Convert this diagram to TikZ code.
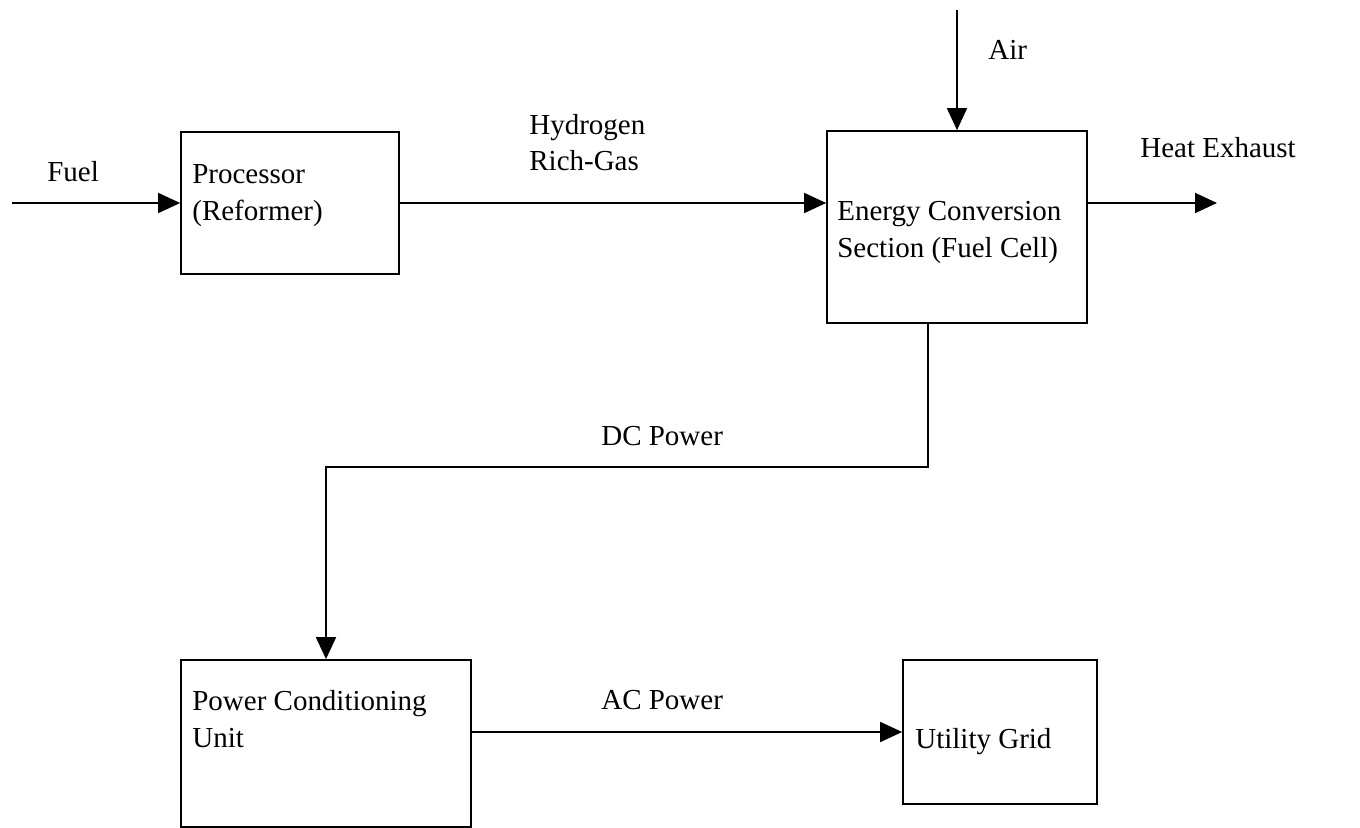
\documentclass[tikz,border=0pt]{standalone}
\usepackage{fontspec}
\setmainfont{Liberation Serif}
\usetikzlibrary{
  arrows.meta,
  positioning,
}

\begin{document}
\begin{tikzpicture}[
  x=0.02cm, y=-0.02cm,
  >={Triangle[length=0.44cm,width=0.40cm]},
  box/.style={draw, line width=1pt, inner sep=0pt},
  txt/.style={anchor=base west, inner sep=0pt, align=left,
    font=\fontsize{16.5}{21}\selectfont},
  flow/.style={->, line width=1pt},
]
\useasboundingbox (0,0) rectangle (1360,828);

% ── Blocks ──────────────────────────────────────────────────────────
\node[box, minimum width=4.36cm, minimum height=2.84cm] (proc) at (290,203) {};
\node[box, minimum width=5.20cm, minimum height=3.84cm] (conv) at (957,227) {};
\node[box, minimum width=5.80cm, minimum height=3.34cm] (pcu)  at (326,743.5) {};
\node[box, minimum width=3.88cm, minimum height=2.88cm] (grid) at (1000,732) {};

% ── Block texts (base = last line) ──────────────────────────────────
\node[txt] (proctext) at (192,220) {Processor\\(Reformer)};
\node[txt] (convtext) at (837,257) {Energy Conversion\\Section (Fuel Cell)};
\node[txt] (pcutext)  at (192,747) {Power Conditioning\\Unit};
\node[txt] (gridtext) at (915,748) {Utility Grid};

% ── Free ends ───────────────────────────────────────────────────────
\coordinate (fuelin)  at (12,203);
\coordinate (airin)   at (957,10);
\coordinate (heatout) at (1217,203);
\coordinate (dcbend)  at (928,467);

% ── Connections ─────────────────────────────────────────────────────
\draw[flow] (fuelin) -- (proc.west);
\draw[flow] (proc.east) -- (proc.east -| conv.west);
\draw[flow] (airin) -- (conv.north);
\draw[flow] (conv.east |- proc.east) -- (heatout);
\draw[flow] (dcbend |- conv.south) -- (dcbend) -| (pcu.north);
\draw[flow] (pcu.east |- grid.west) -- (grid.west);

% ── Flow labels ─────────────────────────────────────────────────────
\node[txt] (fuellbl) at (47,181)   {Fuel};
\node[txt] (h2lbl)   at (529,171)  {Hydrogen\\Rich-Gas};
\node[txt] (airlbl)  at (988,60)   {Air};
\node[txt] (heatlbl) at (1140,157) {Heat Exhaust};
\node[txt] (dclbl)   at (601,445)  {DC Power};
\node[txt] (aclbl)   at (601,709)  {AC Power};

\end{tikzpicture}
\end{document}
